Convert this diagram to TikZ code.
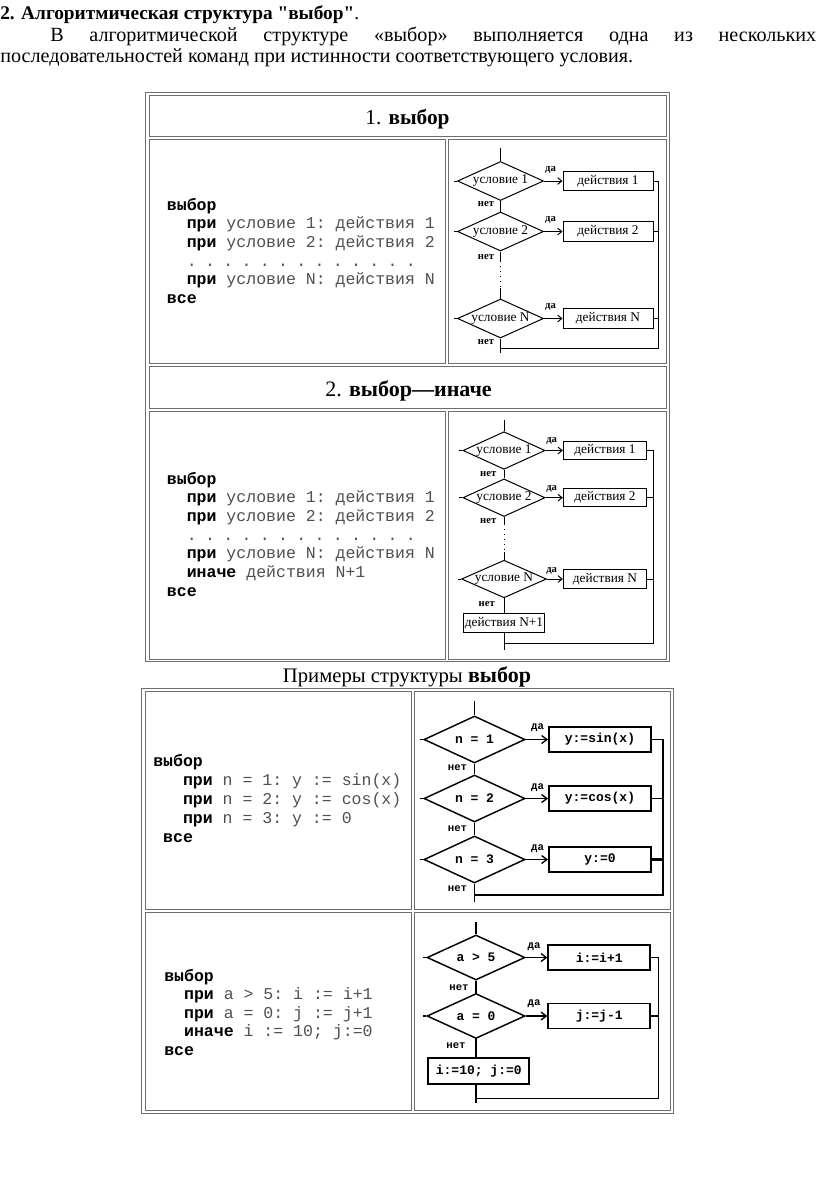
\documentclass[tikz,border=0pt]{standalone}
\usepackage{fontspec}
\setmainfont{Liberation Serif}
\setmonofont{Liberation Mono}
\newfontfamily\rawserif{Liberation Serif}[Ligatures=TeXOff]
\usetikzlibrary{shapes.geometric,arrows.meta}
\definecolor{tblgray}{RGB}{110,110,110}
\definecolor{codegray}{RGB}{80,80,80}
\newcommand\kw[1]{{\bfseries\color{black}#1}}
\newcommand\dt{\makebox[13.7pt][l]{.}}
\newcommand\dotrow{\dt\dt\dt\dt\dt\dt\dt\dt\dt\dt\dt\dt\dt}
\tikzset{
  cell/.style={draw=tblgray, line width=0.7pt},
  txt/.style={anchor=base west, inner sep=0pt, font=\fontsize{15.1}{17}\selectfont},
  hdr/.style={anchor=base, inner sep=0pt, font=\fontsize{16.5}{18}\selectfont},
  code/.style={anchor=base west, inner sep=0pt, text=codegray, font=\fontsize{12.4}{14}\selectfont\ttfamily},
  cond/.style={diamond, draw, aspect=2.3, inner sep=0pt, line width=0.75pt, font=\fontsize{10}{11}\selectfont},
  act/.style={rectangle, draw, inner sep=0pt, line width=0.75pt, font=\fontsize{10}{11}\selectfont},
  lnk/.style={line width=0.75pt},
  arr/.style={lnk, -{Straight Barb[length=3pt,width=5pt]}},
  lbl/.style={inner sep=0pt, font=\fontsize{8}{8}\selectfont\bfseries},
  xcond/.style={diamond, draw, aspect=2.2, inner sep=0pt, line width=1.1pt, font=\fontsize{9.75}{10}\selectfont\ttfamily\bfseries},
  xact/.style={rectangle, draw, inner sep=0pt, line width=1.4pt, font=\fontsize{9.75}{10}\selectfont\ttfamily\bfseries},
  xlnk/.style={line width=1pt},
  xarr/.style={xlnk, -{Straight Barb[length=4pt,width=6pt]}},
  xlbl/.style={inner sep=0pt, font=\fontsize{8}{8}\selectfont\ttfamily\bfseries},
  dots/.style={lnk, dash pattern=on 0.75pt off 3pt},
}
\begin{document}
\begin{tikzpicture}[x=0.75pt,y=-0.75pt]
\useasboundingbox (0,0) rectangle (816,1190);
\fill[white] (0,0) rectangle (816,1190);

% ---------- paragraph ----------
\node[txt, font=\fontsize{14.5}{17}\selectfont\rawserif] (head) at (0,19) {\textbf{2. Алгоритмическая структура "выбор"}.};
\node[txt] (par1) at (50,41.5) {\makebox[574.5pt][s]{В алгоритмической структуре «выбор» выполняется одна из нескольких}};
\node[txt] (par2) at (0,62.5) {последовательностей команд при истинности соответствующего условия.};

% ---------- table 1 ----------
\draw[cell] (145.7,92.3) rectangle (669.5,661.7);
\draw[cell] (149,95.3) rectangle (666.5,136.7);
\draw[cell] (149,139.3) rectangle (445.3,363.3);
\draw[cell] (448,139.3) rectangle (666.5,363.3);
\draw[cell] (149,366.7) rectangle (666.5,408.3);
\draw[cell] (149,411.7) rectangle (445.3,659);
\draw[cell] (448,411.7) rectangle (666.5,659);

\node[hdr, font=\fontsize{16}{18}\selectfont] (t1) at (407.5,124.3) {1. \textbf{выбор}};
\node[hdr] (t2) at (408.5,396) {2. \textbf{выбор—иначе}};

% code 1
\node[code] (k11) at (166.7,210) {\kw{выбор}};
\node[code] (k12) at (166.7,228.7) {\hspace*{1.2em}\kw{при} условие 1: действия 1};
\node[code] (k13) at (166.7,247.4) {\hspace*{1.2em}\kw{при} условие 2: действия 2};
\node[code] (k14) at (166.7,266.1) {\hspace*{1.2em}\dotrow};
\node[code] (k15) at (166.7,284.8) {\hspace*{1.2em}\kw{при} условие N: действия N};
\node[code] (k16) at (166.7,303.5) {\kw{все}};

% code 2
\node[code] (k21) at (166.7,484) {\kw{выбор}};
\node[code] (k22) at (166.7,502.7) {\hspace*{1.2em}\kw{при} условие 1: действия 1};
\node[code] (k23) at (166.7,521.4) {\hspace*{1.2em}\kw{при} условие 2: действия 2};
\node[code] (k24) at (166.7,540.1) {\hspace*{1.2em}\dotrow};
\node[code] (k25) at (166.7,558.8) {\hspace*{1.2em}\kw{при} условие N: действия N};
\node[code] (k26) at (166.7,577.5) {\hspace*{1.2em}\kw{иначе} действия N+1};
\node[code] (k27) at (166.7,596.2) {\kw{все}};

% chart 1
\coordinate (s1) at (500.5,148);
\node[cond, minimum width=64.5pt, minimum height=29.25pt] (c1) at (500.5,181) {условие 1};
\node[cond, minimum width=64.5pt, minimum height=29.25pt] (c2) at (500.5,231.5) {условие 2};
\node[cond, minimum width=64.5pt, minimum height=29.25pt] (cN) at (500.5,318.5) {условие N};
\node[act, minimum width=67.5pt, minimum height=14.6pt] (a1) at (608,181) {действия 1};
\node[act, minimum width=67.5pt, minimum height=14.6pt] (a2) at (608,231.5) {действия 2};
\node[act, minimum width=67.5pt, minimum height=14.6pt] (aN) at (608,318.5) {действия N};
\coordinate (g1) at (500.5,260.5);
\coordinate (g2) at (500.5,288);
\coordinate (e1) at (500.5,353);
\coordinate (r1t) at (658.3,181);
\coordinate (r1b) at (658.3,348.3);
\coordinate (j1) at (500.5,348.3);
\draw[lnk] (s1) -- (c1.north);
\draw[lnk] (c1.south) -- (c2.north);
\draw[lnk] (c2.south) -- (g1);
\draw[dots] (g1) -- (g2);
\draw[lnk] (g2) -- (cN.north);
\draw[lnk] (cN.south) -- (e1);
\draw[arr] (c1.east) -- (a1.west);
\draw[arr] (c2.east) -- (a2.west);
\draw[arr] (cN.east) -- (aN.west);
\draw[lnk] (a1.east) -- (r1t) -- (r1b) -- (j1);
\draw[lnk] (a2.east) -- (a2.east -| r1t);
\draw[lnk] (aN.east) -- (aN.east -| r1t);
\draw[lnk] (c1.west) -- ++(-3,0);
\draw[lnk] (c2.west) -- ++(-3,0);
\draw[lnk] (cN.west) -- ++(-3,0);
\node[lbl] (y11) at (550.5,170) {да};
\node[lbl] (y12) at (550.5,220) {да};
\node[lbl] (y13) at (550.5,306.7) {да};
\node[lbl] (n11) at (486,204) {нет};
\node[lbl] (n12) at (486,256.7) {нет};
\node[lbl] (n13) at (486,342) {нет};

% chart 2
\coordinate (s2) at (504,420);
\node[cond, minimum width=60.75pt, minimum height=28.2pt] (d1) at (504,450.5) {условие 1};
\node[cond, minimum width=60.75pt, minimum height=28.2pt] (d2) at (504,497.7) {условие 2};
\node[cond, minimum width=60.75pt, minimum height=28.2pt] (dN) at (504,579) {условие N};
\node[act, minimum width=62.55pt, minimum height=13.7pt] (b1) at (605,450.5) {действия 1};
\node[act, minimum width=62.55pt, minimum height=13.7pt] (b2) at (605,497.7) {действия 2};
\node[act, minimum width=62.55pt, minimum height=13.7pt] (bN) at (605,579) {действия N};
\node[act, line width=1.1pt, minimum width=60.75pt, minimum height=14.55pt] (bE) at (504,623) {действия N+1};
\coordinate (g3) at (504,524);
\coordinate (g4) at (504,551.5);
\coordinate (e2) at (504,650);
\coordinate (r2t) at (653.3,450.5);
\coordinate (r2b) at (653.3,643.3);
\coordinate (j2) at (504,643.3);
\draw[lnk] (s2) -- (d1.north);
\draw[lnk] (d1.south) -- (d2.north);
\draw[lnk] (d2.south) -- (g3);
\draw[dots] (g3) -- (g4);
\draw[lnk] (g4) -- (dN.north);
\draw[lnk] (dN.south) -- (bE.north);
\draw[lnk] (bE.south) -- (e2);
\draw[arr] (d1.east) -- (b1.west);
\draw[arr] (d2.east) -- (b2.west);
\draw[arr] (dN.east) -- (bN.west);
\draw[lnk] (b1.east) -- (r2t) -- (r2b) -- (j2);
\draw[lnk] (b2.east) -- (b2.east -| r2t);
\draw[lnk] (bN.east) -- (bN.east -| r2t);
\draw[lnk] (d1.west) -- ++(-3,0);
\draw[lnk] (d2.west) -- ++(-3,0);
\draw[lnk] (dN.west) -- ++(-3,0);
\node[lbl] (y21) at (551.7,441.2) {да};
\node[lbl] (y22) at (551.7,489.2) {да};
\node[lbl] (y23) at (551.7,571.2) {да};
\node[lbl] (n21) at (488.3,474.2) {нет};
\node[lbl] (n22) at (488.3,521.2) {нет};
\node[lbl] (n23) at (486.7,604.5) {нет};

% ---------- table 2 ----------
\node[hdr, font=\fontsize{15.5}{18}\selectfont] (t3) at (407,682.5) {Примеры структуры \textbf{\fontsize{16.5}{18}\selectfont выбор}};
\draw[cell] (141.7,688.3) rectangle (673,1113.3);
\draw[cell] (145,691.7) rectangle (411.7,909.3);
\draw[cell] (414.3,691.7) rectangle (670,909.3);
\draw[cell] (145,912.7) rectangle (411.7,1110);
\draw[cell] (414.3,912.7) rectangle (670,1110);

% code 3
\node[code] (k31) at (153,766.7) {\kw{выбор}};
\node[code] (k32) at (153,785.7) {\hspace*{1.8em}\kw{при} n = 1: y := sin(x)};
\node[code] (k33) at (153,804.7) {\hspace*{1.8em}\kw{при} n = 2: y := cos(x)};
\node[code] (k34) at (153,823.7) {\hspace*{1.8em}\kw{при} n = 3: y := 0};
\node[code] (k35) at (153,842.7) {\hspace*{0.6em}\kw{все}};

% code 4
\node[code] (k41) at (164,981) {\kw{выбор}};
\node[code] (k42) at (164,999.5) {\hspace*{1.2em}\kw{при} a > 5: i := i+1};
\node[code] (k43) at (164,1018) {\hspace*{1.2em}\kw{при} a = 0: j := j+1};
\node[code] (k44) at (164,1036.5) {\hspace*{1.2em}\kw{иначе} i := 10; j:=0};
\node[code] (k45) at (164,1055) {\kw{все}};

% chart 3
\coordinate (s3) at (474.5,701);
\node[xcond, minimum width=75.75pt, minimum height=35.25pt] (m1) at (474.5,739.5) {n = 1};
\node[xcond, minimum width=75.75pt, minimum height=35.25pt] (m2) at (474.5,798.5) {n = 2};
\node[xcond, minimum width=75.75pt, minimum height=35.25pt] (m3) at (474.5,859.5) {n = 3};
\node[xact, minimum width=76.5pt, minimum height=19.1pt] (v1) at (600,739.5) {y:=sin(x)};
\node[xact, minimum width=76.5pt, minimum height=19.1pt] (v2) at (600,798.5) {y:=cos(x)};
\node[xact, minimum width=76.5pt, minimum height=19.1pt] (v3) at (600,859.5) {y:=0};
\coordinate (e3) at (474.5,902);
\coordinate (r3t) at (663,739.5);
\coordinate (r3b) at (663,895);
\coordinate (j3) at (474.5,895);
\draw[xlnk] (s3) -- (m1.north);
\draw[xlnk] (m1.south) -- (m2.north);
\draw[xlnk] (m2.south) -- (m3.north);
\draw[xlnk] (m3.south) -- (e3);
\draw[xarr] (m1.east) -- (v1.west);
\draw[xarr] (m2.east) -- (v2.west);
\draw[xarr] (m3.east) -- (v3.west);
\draw[xlnk] (v1.east) -- (r3t) -- (r3b) -- (j3);
\draw[xlnk] (v2.east) -- (v2.east -| r3t);
\draw[xlnk, line width=1.8pt] (v3.east) -- (v3.east -| r3t);
\draw[xlnk] (m1.west) -- ++(-3,0);
\draw[xlnk] (m2.west) -- ++(-3,0);
\draw[xlnk] (m3.west) -- ++(-3,0);
\node[xlbl] (y31) at (537.5,727.5) {да};
\node[xlbl] (y32) at (537.5,788) {да};
\node[xlbl] (y33) at (537.5,849) {да};
\node[xlbl] (n31) at (457.5,767.5) {нет};
\node[xlbl] (n32) at (457.5,828.3) {нет};
\node[xlbl] (n33) at (457.5,889) {нет};

% chart 4
\coordinate (s4) at (476,921.7);
\node[xcond, minimum width=73.5pt, minimum height=33.75pt] (q1) at (476,957.5) {a > 5};
\node[xcond, minimum width=73.5pt, minimum height=33.75pt] (q2) at (476,1016) {a = 0};
\node[xact, minimum width=76.3pt, minimum height=18.75pt] (w1) at (599.2,957.5) {i:=i+1};
\node[xact, minimum width=76.3pt, minimum height=18.75pt] (w2) at (599.2,1016) {j:=j-1};
\node[xact, minimum width=75.75pt, minimum height=19.3pt] (w3) at (478.8,1071) {i:=10; j:=0};
\coordinate (e4) at (476,1103.3);
\coordinate (r4t) at (658.3,957.5);
\coordinate (r4b) at (658.3,1098.3);
\coordinate (j4) at (476,1098.3);
\draw[xlnk] (s4) -- (q1.north);
\draw[xlnk] (q1.south) -- (q2.north);
\draw[xlnk] (q2.south) -- (q2.south |- w3.north);
\draw[xlnk] (q2.south |- w3.south) -- (e4);
\draw[xarr] (q1.east) -- (w1.west);
\draw[xarr] (q2.east) -- (w2.west);
\draw[xlnk] (w1.east) -- (r4t) -- (r4b) -- (j4);
\draw[xlnk] (w2.east) -- (w2.east -| r4t);
\draw[xlnk] (q1.west) -- ++(-3,0);
\draw[xlnk] (q2.west) -- ++(-3,0);
\node[xlbl] (y41) at (534,946.3) {да};
\node[xlbl] (y42) at (534,1004) {да};
\node[xlbl] (n41) at (459,987.5) {нет};
\node[xlbl] (n42) at (456,1045.8) {нет};
\end{tikzpicture}
\end{document}
